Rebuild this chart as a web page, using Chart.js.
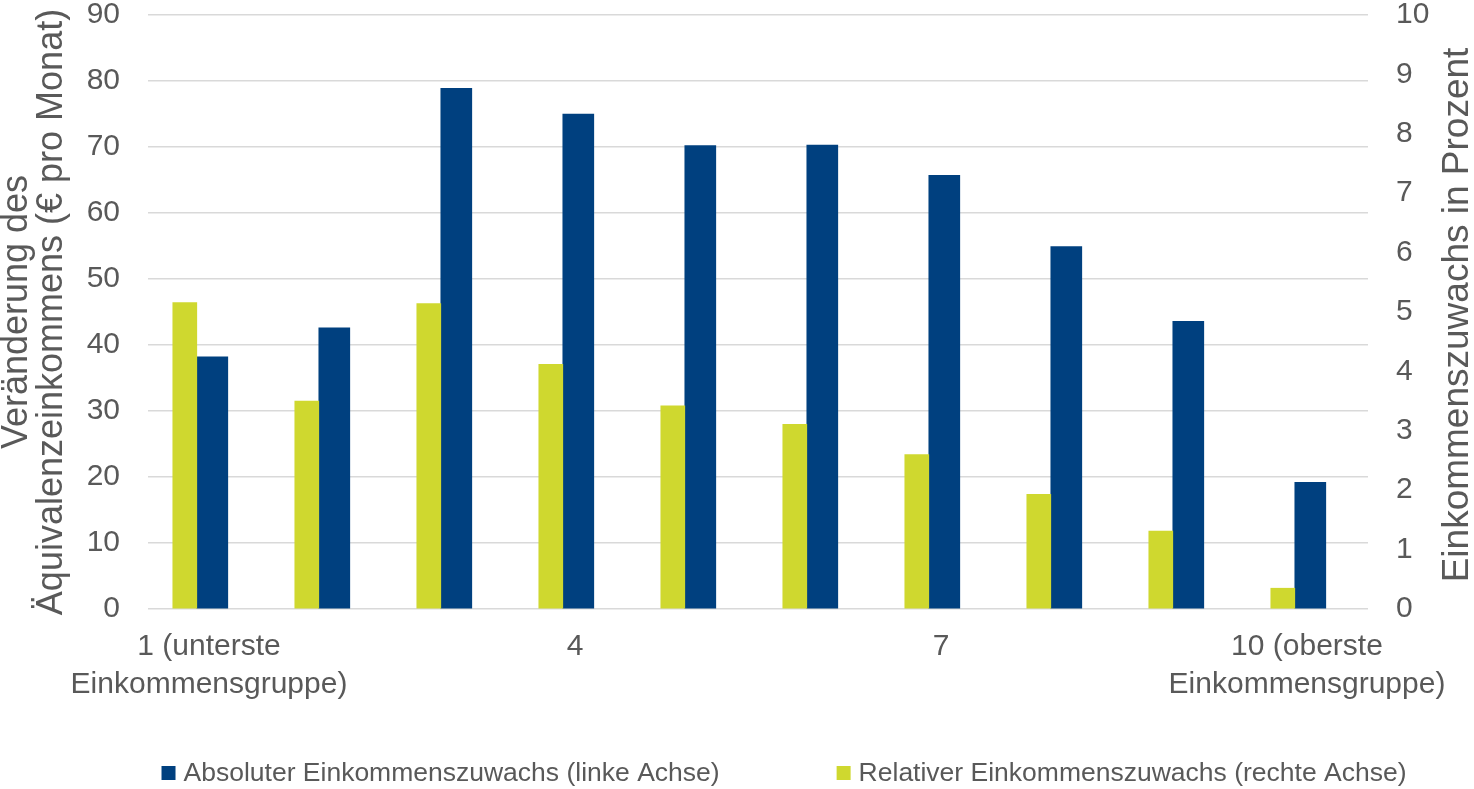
<!DOCTYPE html>
<html lang="de">
<head>
<meta charset="utf-8">
<title>Einkommenszuwachs nach Einkommensgruppe</title>
<script src="https://cdn.jsdelivr.net/npm/chart.js@4/dist/chart.umd.min.js"></script>
<style>
  html, body { margin: 0; padding: 0; background: #fff; }
  #wrap { position: relative; width: 1474px; height: 789px; }
</style>
</head>
<body>
<div id="wrap"><canvas id="chart"></canvas></div>
<script>
// ============================================================
//  Einkommenszuwachs je Dezil – absolut (links) und relativ (rechts)
// ============================================================

// Dezile 1..10 (Position auf der Balkenachse)
const groups = [1, 2, 3, 4, 5, 6, 7, 8, 9, 10];

// Beschriftung der x-Achse, nur jedes dritte Dezil
const groupLabels = [
  ['1 (unterste', 'Einkommensgruppe)'], '', '', '4', '', '', '7', '', '',
  ['10 (oberste', 'Einkommensgruppe)']
];

// € pro Monat (linke Achse)
const absoluteGain = [38.2, 42.6, 78.9, 75.0, 70.2, 70.3, 65.7, 54.9, 43.6, 19.2];
// Prozent (rechte Achse)
const relativeGain = [5.16, 3.50, 5.14, 4.12, 3.42, 3.11, 2.60, 1.93, 1.31, 0.35];

const leftTicks  = { min: 0, max: 90, step: 10 };
const rightTicks = { min: 0, max: 10, step: 1 };

const seriesNames = [
  'Absoluter Einkommenszuwachs (linke Achse)',
  'Relativer Einkommenszuwachs (rechte Achse)'
];

const BLUE  = '#00407f';
const GREEN = '#cfd82f';
const TEXT  = '#595959';
const FONT  = '"Liberation Sans", Arial, sans-serif';

Chart.defaults.font.family = FONT;
Chart.defaults.color = TEXT;

// rechter Achsentitel, von unten nach oben gelesen
const rightTitle = {
  id: 'rightTitle',
  afterDraw(chart) {
    const { ctx, chartArea } = chart;
    ctx.save();
    ctx.font = '37px ' + FONT;
    ctx.fillStyle = TEXT;
    ctx.textAlign = 'center';
    ctx.textBaseline = 'middle';
    ctx.translate(chart.width - 16, (chartArea.top + chartArea.bottom) / 2 + 3);
    ctx.rotate(-Math.PI / 2);
    ctx.fillText('Einkommenszuwachs in Prozent', 0, 0);
    ctx.restore();
  }
};

// Legende unten, Excel-artig mit breitem Abstand zwischen den Einträgen
const bottomLegend = {
  id: 'bottomLegend',
  afterDraw(chart) {
    const { ctx } = chart;
    const box = 14, gap = 8, itemGap = 117, cx = 784, cy = 773;
    ctx.save();
    ctx.font = '26.5px ' + FONT;
    ctx.textBaseline = 'middle';
    const items = chart.data.datasets.map(ds => ({
      label: ds.label, color: ds.backgroundColor,
      w: box + gap + ctx.measureText(ds.label).width
    }));
    const total = items.reduce((s, it) => s + it.w, 0) + itemGap * (items.length - 1);
    let x = cx - total / 2;
    items.forEach(it => {
      ctx.fillStyle = it.color;
      ctx.fillRect(x, cy - box / 2, box, box);
      ctx.fillStyle = TEXT;
      ctx.fillText(it.label, x + box + gap, cy + 1);
      x += it.w + itemGap;
    });
    ctx.restore();
  }
};

// Abstand Beschriftung <-> Achse über unsichtbare Tick-Striche,
// damit ticks.padding den Plotbereich oben nicht verkleinert
const valueAxisGrid = (show) => ({
  display: true,
  drawOnChartArea: show,
  color: '#d9d9d9',
  lineWidth: 1.5,
  drawTicks: true,
  tickLength: 28,
  tickColor: 'rgba(0,0,0,0)'
});

new Chart(document.getElementById('chart'), {
  type: 'bar',
  data: {
    datasets: [
      {
        label: seriesNames[0],
        data: groups.map((g, i) => ({ x: g, y: absoluteGain[i] })),
        backgroundColor: BLUE,
        barThickness: 31,
        yAxisID: 'y',
        order: 2
      },
      {
        label: seriesNames[1],
        data: groups.map((g, i) => ({ x: g, y: relativeGain[i] })),
        backgroundColor: GREEN,
        barThickness: 24,
        yAxisID: 'y1',
        order: 1
      }
    ]
  },
  options: {
    responsive: true,
    maintainAspectRatio: false,
    animation: false,
    layout: { padding: { top: 0, bottom: 70, left: 0, right: 0 } },
    plugins: {
      legend: { display: false },
      tooltip: { enabled: false }
    },
    scales: {
      // Balkenachse, etwas nach links versetzt gegenüber den Beschriftungen
      x: {
        type: 'linear',
        display: false,
        min: 0.6,
        max: 10.6,
        offset: false
      },
      xl: {
        type: 'category',
        position: 'bottom',
        labels: groupLabels,
        offset: true,
        grid: { display: false },
        border: { display: false },
        ticks: {
          autoSkip: false,
          maxRotation: 0,
          minRotation: 0,
          padding: 11,
          color: TEXT,
          font: { size: 30, lineHeight: 1.27 }
        },
        afterFit: s => { s.height = 110; }
      },
      y: {
        position: 'left',
        min: leftTicks.min,
        max: leftTicks.max,
        grid: valueAxisGrid(true),
        border: { display: false },
        ticks: {
          stepSize: leftTicks.step,
          padding: 0,
          color: TEXT,
          font: { size: 30, lineHeight: 1.0 }
        },
        title: {
          display: true,
          text: ['Veränderung des', 'Äquivalenzeinkommens (€ pro Monat)'],
          color: TEXT,
          font: { size: 36, lineHeight: 0.97 },
          padding: { top: 0, bottom: 0 }
        },
        afterFit: s => { s.width = 148; }
      },
      y1: {
        position: 'right',
        min: rightTicks.min,
        max: rightTicks.max,
        grid: valueAxisGrid(false),
        border: { display: false },
        ticks: {
          stepSize: rightTicks.step,
          padding: 0,
          color: TEXT,
          font: { size: 30, lineHeight: 1.0 }
        },
        afterFit: s => { s.width = 106; }
      }
    }
  },
  plugins: [rightTitle, bottomLegend]
});
</script>
</body>
</html>
